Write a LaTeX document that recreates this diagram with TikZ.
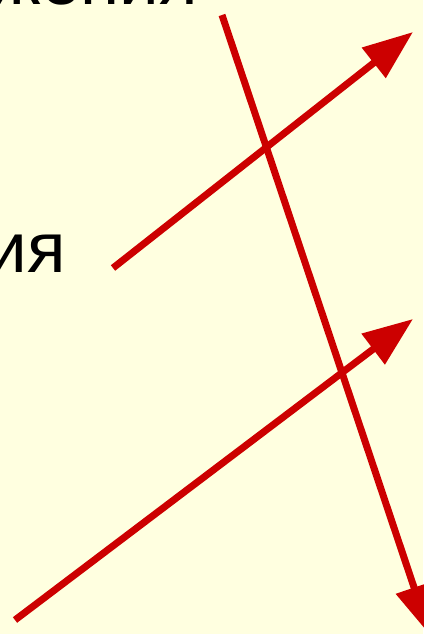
\documentclass[tikz,border=0pt]{standalone}
\usepackage{fontspec}
\setmainfont{Liberation Sans}
\usetikzlibrary{arrows.meta}
\definecolor{bgyellow}{RGB}{255,255,224}
\definecolor{arrowred}{RGB}{204,0,0}
\tikzset{
  redarrow/.style={draw=arrowred, line width=7pt, -{Triangle[length=50pt,width=37pt]}},
  bigtext/.style={font=\fontsize{71}{80}\selectfont, inner sep=0pt, text=black}
}
\begin{document}
\begin{tikzpicture}[x=1pt,y=-1pt]
\fill[bgyellow] (0,0) rectangle (423,634);
\useasboundingbox (0,0) rectangle (423,634);
\node[bigtext, anchor=base east] (toptext) at (198,5) {жения};
\node[bigtext, anchor=base east] (lefttext) at (66,272) {ия};
\coordinate (a1s) at (113,268);
\coordinate (a1e) at (413,32);
\coordinate (a2s) at (15,620);
\coordinate (a2e) at (413,319);
\coordinate (a3s) at (222,15);
\coordinate (a3e) at (430,635);
\draw[redarrow] (a1s) -- (a1e);
\draw[redarrow] (a2s) -- (a2e);
\draw[redarrow] (a3s) -- (a3e);
\end{tikzpicture}
\end{document}
